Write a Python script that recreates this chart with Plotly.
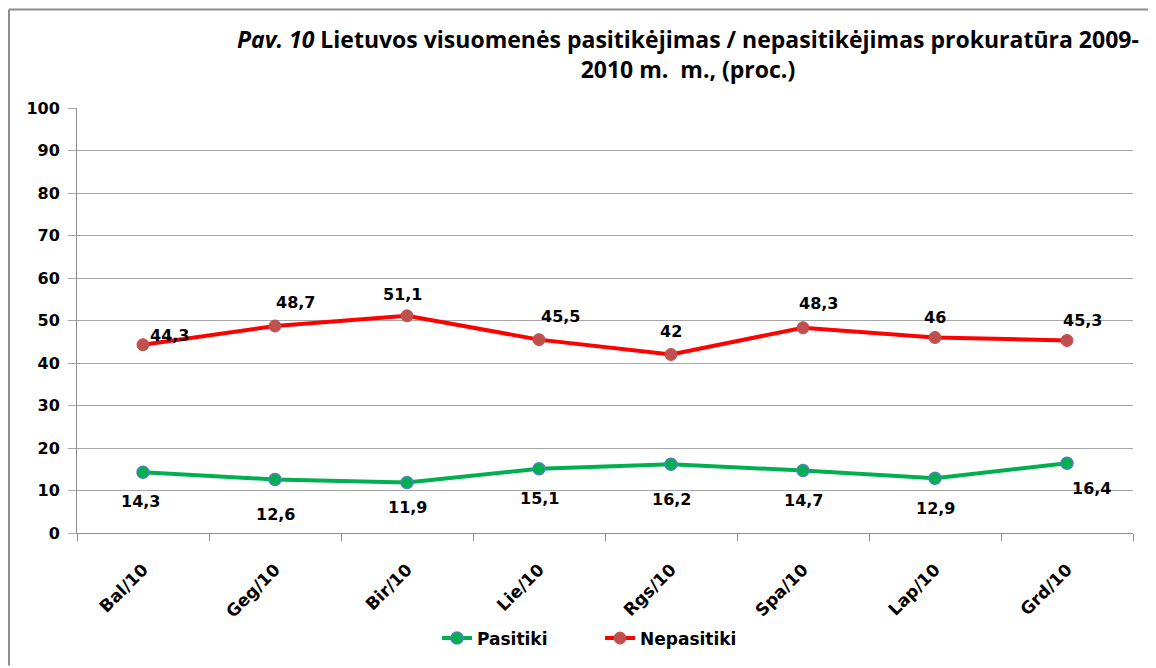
import plotly.graph_objects as go

categories = ["Bal/10", "Geg/10", "Bir/10", "Lie/10", "Rgs/10", "Spa/10", "Lap/10", "Grd/10"]
pasitiki = [14.3, 12.6, 11.9, 15.1, 16.2, 14.7, 12.9, 16.4]
nepasitiki = [44.3, 48.7, 51.1, 45.5, 42.0, 48.3, 46.0, 45.3]
y_ticks = [0, 10, 20, 30, 40, 50, 60, 70, 80, 90, 100]
series_names = ["Pasitiki", "Nepasitiki"]

# label offsets in pixels (style only)
nep_offsets = [(26, 9), (20, 24), (-5, 21), (21, 23), (0, 23), (15, 24), (0, 20), (15, 20)]
pas_offsets = [(-3, -29), (0, -35), (0, -25), (0, -30), (0, -35), (0, -30), (0, -30), (24, -25)]

# page has an 8px body margin: figure occupies page pixels 8..1156 / 8..668
OFF = 8
W, H = 1156 - OFF, 668 - OFF
# plot area in page pixels: x 77..1133, y 108..535
ML = 77 - OFF
MT = 108 - OFF
MR = 1156 - 1133
MB = 668 - 535

FONT = "DejaVu Sans"

def fmt(v):
    return ("%g" % v).replace(".", ",")

fig = go.Figure()
fig.add_trace(go.Scatter(
    x=categories, y=pasitiki, name="<b>%s</b>" % series_names[0], mode="lines+markers",
    line=dict(color="#00B050", width=4),
    marker=dict(size=12, color="#00B050", line=dict(color="#4F81BD", width=1.5)),
))
fig.add_trace(go.Scatter(
    x=categories, y=nepasitiki, name="<b>%s</b>" % series_names[1], mode="lines+markers",
    line=dict(color="#FF0000", width=4),
    marker=dict(size=12, color="#C0504D", line=dict(color="#C0504D", width=1)),
))

annotations = []
for c, v, (dx, dy) in zip(categories, nepasitiki, nep_offsets):
    annotations.append(dict(x=c, y=v, text="<b>%s</b>" % fmt(v), showarrow=False,
                            xshift=dx, yshift=dy, font=dict(family=FONT, size=16, color="black")))
for c, v, (dx, dy) in zip(categories, pasitiki, pas_offsets):
    annotations.append(dict(x=c, y=v, text="<b>%s</b>" % fmt(v), showarrow=False,
                            xshift=dx, yshift=dy, font=dict(family=FONT, size=16, color="black")))

pw = W - ML - MR
ph = H - MT - MB
def px_x(p):  # page pixel -> paper x
    return (p - OFF - ML) / pw
def px_y(p):  # page pixel -> paper y
    return (H - MB - (p - OFF)) / ph

annotations.append(dict(
    xref="paper", yref="paper", x=px_x(688), y=px_y(54), xanchor="center", yanchor="middle",
    showarrow=False, align="center",
    text="<b><i>Pav. 10</i> Lietuvos visuomenės pasitikėjimas / nepasitikėjimas prokuratūra 2009-</b><br><b>2010 m.  m., (proc.)</b>",
    font=dict(family="Open Sans, sans-serif", size=23, color="black"),
))

shapes = [
    dict(type="line", xref="paper", yref="paper", x0=px_x(9), x1=px_x(9), y0=px_y(9), y1=px_y(668),
         line=dict(color="#8C8C8C", width=2)),
    dict(type="line", xref="paper", yref="paper", x0=px_x(9), x1=px_x(1156), y0=px_y(9), y1=px_y(9),
         line=dict(color="#8C8C8C", width=2)),
]

fig.update_layout(
    width=W, height=H,
    margin=dict(l=ML, r=MR, t=MT, b=MB, pad=0),
    paper_bgcolor="white", plot_bgcolor="white",
    showlegend=True,
    legend=dict(orientation="h", x=px_x(437), y=px_y(641), xanchor="left", yanchor="middle",
                font=dict(family=FONT, size=17, color="black"), tracegroupgap=0,
                entrywidth=118, entrywidthmode="pixels"),
    annotations=annotations,
    shapes=shapes,
    xaxis=dict(
        type="category", categoryorder="array", categoryarray=categories,
        range=[-0.5, len(categories) - 0.5],
        showline=True, linecolor="#8C8C8C", linewidth=1,
        ticks="outside", tickson="boundaries", ticklen=7, tickcolor="#8C8C8C",
        tickangle=-45, showgrid=False,
        tickfont=dict(family=FONT, size=17, color="black"),
        tickprefix="<b>", ticksuffix="</b>",
        ticklabelstandoff=19,
    ),
    yaxis=dict(
        range=[0, 100], tickvals=y_ticks, ticktext=["<b>%d</b>" % t for t in y_ticks],
        showline=True, linecolor="#8C8C8C", linewidth=1,
        ticks="outside", ticklen=8, tickcolor="#A6A6A6",
        showgrid=True, gridcolor="#A6A6A6", gridwidth=1, zeroline=False,
        tickfont=dict(family=FONT, size=16, color="black"),
        ticklabelstandoff=5,
    ),
)

fig.write_html("out.html")
